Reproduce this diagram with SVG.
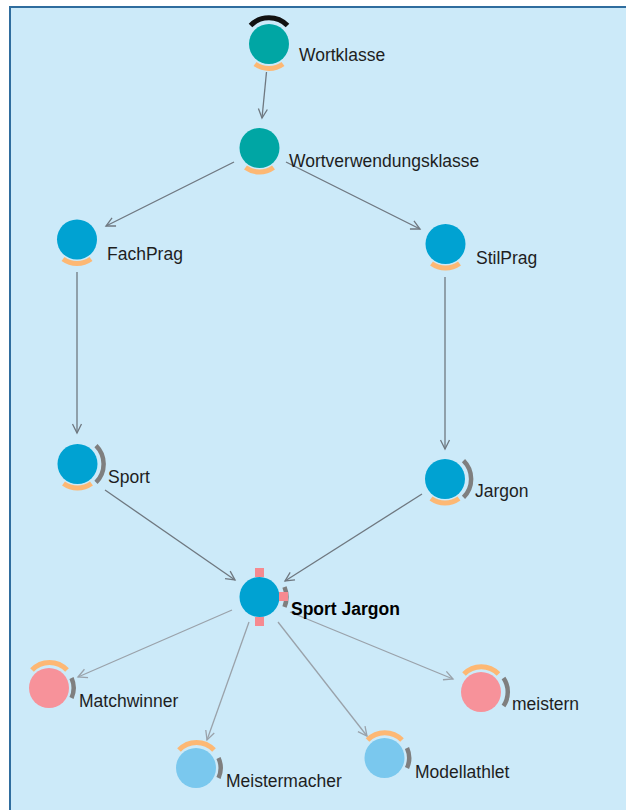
<svg xmlns="http://www.w3.org/2000/svg" width="626" height="810" viewBox="0 0 626 810">
<style>
.lbl{font-family:"Liberation Sans",Arial,sans-serif;font-size:17.5px;fill:#1e1e1e}
.bold{font-weight:bold;fill:#000}
.e1{stroke:#6f7880;stroke-width:1.3;fill:none;marker-end:url(#arr1)}
.e2{stroke:#9aa2aa;stroke-width:1.3;fill:none;marker-end:url(#arr2)}
.or{stroke:#fdb874;stroke-width:5;fill:none}
.gr{stroke:#7f7f7f;stroke-width:4.5;fill:none}
.bk{stroke:#111;stroke-width:5;fill:none}
.teal{fill:#00a6a4}
.blue{fill:#00a2d2}
.pink{fill:#f7929a}
.lblue{fill:#7ac8ee}
.sq{fill:#f68a90}
</style>
<defs>
<marker id="arr1" markerUnits="userSpaceOnUse" markerWidth="12" markerHeight="12" refX="10" refY="6" orient="auto"><path d="M1,1.5 L10,6 L1,10.5" fill="none" stroke="#6f7880" stroke-width="1.3"/></marker>
<marker id="arr2" markerUnits="userSpaceOnUse" markerWidth="12" markerHeight="12" refX="10" refY="6" orient="auto"><path d="M1,1.5 L10,6 L1,10.5" fill="none" stroke="#9aa2aa" stroke-width="1.3"/></marker>
</defs>
<rect x="0" y="0" width="626" height="810" fill="#ffffff"/>
<rect x="9" y="6" width="620" height="810" fill="#cceaf9"/>
<line x1="9" y1="7" x2="626" y2="7" stroke="#2f6d9e" stroke-width="2"/>
<line x1="10" y1="6" x2="10" y2="810" stroke="#2f6d9e" stroke-width="2"/>

<g id="connectors">
<line class="e1" x1="266.5" y1="72" x2="262" y2="118"/>
<line class="e1" x1="234" y1="162" x2="106" y2="226"/>
<line class="e1" x1="286" y1="162" x2="420" y2="229"/>
<line class="e1" x1="77" y1="272" x2="77" y2="433"/>
<line class="e1" x1="445" y1="277" x2="445" y2="449"/>
<line class="e1" x1="105" y1="490" x2="235" y2="580"/>
<line class="e1" x1="422" y1="494" x2="285" y2="581"/>
<line class="e2" x1="232" y1="610" x2="78" y2="677"/>
<line class="e2" x1="249" y1="622" x2="207" y2="740"/>
<line class="e2" x1="278" y1="622" x2="367" y2="736"/>
<line class="e2" x1="290" y1="612" x2="453" y2="679"/>
</g>

<g id="node-wortklasse">
<path class="bk" d="M250.5,25.5 A26,26 0 0 1 287.5,25.5"/>
<circle class="teal" cx="269" cy="44" r="20"/>
<path class="or" d="M255,64 A24,24 0 0 0 283,64"/>
<text class="lbl" x="299" y="61">Wortklasse</text>
</g>

<g id="node-wortverwendungsklasse">
<circle class="teal" cx="259.5" cy="148" r="20"/>
<path class="or" d="M245.5,167.5 A24,24 0 0 0 273.5,167.5"/>
<text class="lbl" x="289" y="167">Wortverwendungsklasse</text>
</g>

<g id="node-fachprag">
<circle class="blue" cx="77" cy="239.5" r="20"/>
<path class="or" d="M63,259 A24,24 0 0 0 91,259"/>
<text class="lbl" x="107" y="260">FachPrag</text>
</g>

<g id="node-stilprag">
<circle class="blue" cx="445.5" cy="244" r="20"/>
<path class="or" d="M431.5,263.5 A24,24 0 0 0 459.5,263.5"/>
<text class="lbl" x="476" y="264">StilPrag</text>
</g>

<g id="node-sport">
<circle class="blue" cx="77.5" cy="464" r="20"/>
<path class="or" d="M63.5,483.5 A24,24 0 0 0 91.5,483.5"/>
<path class="gr" d="M96,445.6 A26,26 0 0 1 96,482.4"/>
<text class="lbl" x="108" y="483">Sport</text>
</g>

<g id="node-jargon">
<circle class="blue" cx="445" cy="479" r="20"/>
<path class="or" d="M431,498.5 A24,24 0 0 0 459,498.5"/>
<path class="gr" d="M463.5,460.6 A26,26 0 0 1 463.5,497.4"/>
<text class="lbl" x="475" y="497">Jargon</text>
</g>

<g id="node-sport-jargon">
<path class="gr" d="M284.5,587 A27,27 0 0 1 284.5,607"/>
<circle class="blue" cx="259.5" cy="597" r="20"/>
<rect class="sq" x="255" y="568" width="9" height="9"/>
<rect class="sq" x="255" y="617" width="9" height="9"/>
<rect class="sq" x="279" y="592" width="9" height="9"/>
<text class="lbl bold" x="291" y="615">Sport Jargon</text>
</g>

<g id="node-matchwinner">
<path class="or" d="M32,670 A24,24 0 0 1 67,670"/>
<circle class="pink" cx="49" cy="688" r="20"/>
<path class="gr" d="M71.5,678 A24.5,24.5 0 0 1 71.5,698"/>
<text class="lbl" x="79" y="707">Matchwinner</text>
</g>

<g id="node-meistermacher">
<path class="or" d="M179,750 A24,24 0 0 1 214,750"/>
<circle class="lblue" cx="196" cy="768" r="20"/>
<path class="gr" d="M218.5,758 A24.5,24.5 0 0 1 218.5,778"/>
<text class="lbl" x="226" y="787">Meistermacher</text>
</g>

<g id="node-modellathlet">
<path class="or" d="M367.5,740 A24,24 0 0 1 402,740"/>
<circle class="lblue" cx="384.5" cy="758" r="20"/>
<path class="gr" d="M407,748 A24.5,24.5 0 0 1 407,768"/>
<text class="lbl" x="415" y="778">Modellathlet</text>
</g>

<g id="node-meistern">
<path class="or" d="M464,674 A24,24 0 0 1 498.5,674"/>
<circle class="pink" cx="481" cy="692" r="20"/>
<path class="gr" d="M503.5,678 A25,25 0 0 1 503.5,706"/>
<text class="lbl" x="512" y="710">meistern</text>
</g>
</svg>
